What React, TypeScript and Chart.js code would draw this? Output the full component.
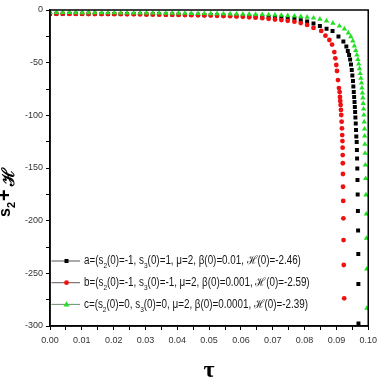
import React, { useEffect, useRef } from 'react';
import { Chart, registerables } from 'chart.js';

Chart.register(...registerables);

// ---- data ----
const tauGrid = [
  0, 0.0020, 0.0040, 0.0061, 0.0081, 0.0101, 0.0121, 0.0141, 0.0162, 0.0182,
  0.0202, 0.0222, 0.0242, 0.0263, 0.0283, 0.0303, 0.0323, 0.0343, 0.0364, 0.0384,
  0.0404, 0.0424, 0.0444, 0.0465, 0.0485, 0.0505, 0.0525, 0.0545, 0.0566, 0.0586,
  0.0606, 0.0626, 0.0646, 0.0667, 0.0687, 0.0707, 0.0727, 0.0747, 0.0768, 0.0788,
  0.0808, 0.0828, 0.0848, 0.0869, 0.0889,
];

const aHead = [
  -3.5, -3.5, -3.5, -3.5, -3.6, -3.6, -3.6, -3.6, -3.7, -3.7,
  -3.7, -3.8, -3.8, -3.9, -3.9, -4.0, -4.0, -4.1, -4.2, -4.2,
  -4.3, -4.4, -4.5, -4.6, -4.7, -4.8, -4.9, -5.1, -5.2, -5.4,
  -5.6, -5.8, -6.0, -6.3, -6.6, -6.9, -7.2, -7.6, -8.2, -9.6,
  -11.0, -12.9, -15.2, -17.8,
];
const aTailTau = [
  0.08878, 0.09064, 0.09219, 0.09312, 0.09358, 0.09399, 0.09430, 0.09458, 0.09482, 0.09501,
  0.09520, 0.09532, 0.09545, 0.09557, 0.09569, 0.09579, 0.09588, 0.09597, 0.09607, 0.09616,
  0.09625, 0.09637, 0.09644, 0.09650, 0.09656, 0.09662, 0.09668, 0.09675, 0.09681, 0.09687,
  0.09690, 0.09693,
];
const aTailVal = [
  -19.9, -25.2, -29.9, -34.7, -38.9, -42.7, -47.0, -51.8, -57.0, -62.2,
  -67.4, -72.6, -77.9, -82.6, -87.3, -92.1, -96.8, -102.1, -107.8, -113.9,
  -120.1, -125.3, -132.9, -141.0, -150.5, -161.4, -175.2, -190.8, -209.3, -231.6,
  -260.1, -297.5,
];

const bHead = [
  -3.6, -3.6, -3.6, -3.7, -3.7, -3.7, -3.8, -3.8, -3.9, -3.9,
  -4.0, -4.0, -4.1, -4.1, -4.2, -4.3, -4.3, -4.4, -4.5, -4.6,
  -4.7, -4.8, -4.9, -5.0, -5.2, -5.3, -5.5, -5.7, -5.9, -6.2,
  -6.5, -6.9, -7.3, -7.8, -8.4, -9.0, -9.6, -10.3, -11.1, -12.4,
  -14.2, -17.0,
];
const bTailTau = [
  0.08522, 0.08655, 0.08779, 0.08863, 0.08934, 0.08965, 0.08996, 0.09018, 0.09049, 0.09080,
  0.09101, 0.09111, 0.09120, 0.09132, 0.09142, 0.09151, 0.09164, 0.09173, 0.09182, 0.09189,
  0.09195, 0.09198, 0.09201, 0.09204, 0.09207, 0.09213, 0.09219, 0.09225, 0.09231, 0.09244,
];
const bTailVal = [
  -19.9, -24.4, -28.5, -32.8, -39.9, -45.9, -52.2, -57.9, -66.5, -74.1,
  -77.9, -82.6, -86.4, -90.2, -94.9, -99.7, -106.0, -112.3, -118.7, -124.4,
  -130.7, -137.7, -145.5, -155.7, -167.8, -181.3, -197.8, -218.4, -242.1, -273.7,
];

const cHead = [
  -2.4, -2.4, -2.4, -2.4, -2.5, -2.5, -2.5, -2.5, -2.6, -2.6,
  -2.6, -2.7, -2.7, -2.7, -2.8, -2.8, -2.9, -2.9, -3.0, -3.0,
  -3.1, -3.1, -3.2, -3.3, -3.3, -3.4, -3.5, -3.6, -3.7, -3.8,
  -3.9, -4.0, -4.2, -4.3, -4.5, -4.7, -5.0, -5.3, -5.7, -6.2,
  -6.8, -7.6, -8.7, -10.3, -12.5,
];
const cTailTau = [
  0.09095, 0.09250, 0.09374, 0.09452, 0.09514, 0.09563, 0.09607, 0.09644, 0.09675, 0.09700,
  0.09724, 0.09746, 0.09768, 0.09786, 0.09802, 0.09817, 0.09830, 0.09842, 0.09854, 0.09864,
  0.09873, 0.09882, 0.09888, 0.09895, 0.09901, 0.09910, 0.09920, 0.09929, 0.09938, 0.09944,
  0.09951, 0.09957,
];
const cTailVal = [
  -15.2, -18.0, -21.8, -25.3, -29.4, -34.2, -38.5, -42.7, -47.0, -51.3,
  -55.7, -60.3, -64.8, -69.3, -74.1, -78.8, -83.5, -88.6, -94.0, -99.7,
  -106.3, -113.0, -119.6, -127.5, -136.0, -147.2, -160.0, -175.6, -193.7, -216.7,
  -245.9, -283.2,
];

const legendLabels = [
  'a=(s_2(0)=-1, s_3(0)=1, μ=2, β(0)=0.01, ℋ(0)=-2.46)',
  'b=(s_2(0)=-1, s_3(0)=-1, μ=2, β(0)=0.001, ℋ(0)=-2.59)',
  'c=(s_2(0)=0, s_3(0)=0, μ=2, β(0)=0.0001, ℋ(0)=-2.39)',
];
const yTitleParts = ['s', '2', '+', 'ℋ'];
const xTitle = 'τ';

const seriesColors = ['#000000', '#ee1111', '#22e022'];
const legendLineColors = ['#555555', '#6b5555', '#6f8f6f'];
const seriesStyles = ['rect', 'circle', 'triangle'];

function pts(tau: number[], val: number[]) {
  return val.map((v, i) => ({ x: tau[i], y: v }));
}

const seriesA = [...pts(tauGrid, aHead), ...pts(aTailTau, aTailVal)];
const seriesB = [...pts(tauGrid, bHead), ...pts(bTailTau, bTailVal)];
const seriesC = [...pts(tauGrid, cHead), ...pts(cTailTau, cTailVal)];

const tickFont = "'Liberation Sans', sans-serif";
const legendFont = "'Liberation Sans', sans-serif";

function drawRich(ctx: CanvasRenderingContext2D, str: string, x0: number, y: number, font: string, subFont: string, subDy: number, squeeze: number) {
  ctx.save();
  ctx.translate(x0, y);
  ctx.scale(squeeze, 1);
  let x = 0;
  const parts = str.split(/_(.)/);
  parts.forEach((p, k) => {
    if (!p) return;
    const sub = k % 2 === 1;
    ctx.font = sub ? subFont : font;
    ctx.fillText(p, x, sub ? subDy : 0);
    x += ctx.measureText(p).width;
  });
  ctx.restore();
}

function drawMarker(ctx: CanvasRenderingContext2D, style: string, x: number, y: number, color: string) {
  ctx.fillStyle = color;
  ctx.beginPath();
  if (style === 'rect') {
    ctx.rect(x - 2, y - 2, 4, 4);
  } else if (style === 'circle') {
    ctx.arc(x, y, 2.4, 0, Math.PI * 2);
  } else {
    ctx.moveTo(x, y - 3.2);
    ctx.lineTo(x + 3, y + 2);
    ctx.lineTo(x - 3, y + 2);
    ctx.closePath();
  }
  ctx.fill();
}

const overlayPlugin = {
  id: 'overlay',
  afterDraw(chart: any) {
    const { ctx, chartArea: ca } = chart;
    ctx.save();
    // frame
    ctx.strokeStyle = '#000';
    ctx.lineWidth = 1.5;
    ctx.strokeRect(ca.left, ca.top, ca.right - ca.left, ca.bottom - ca.top);

    // legend
    legendLabels.forEach((label, i) => {
      const y = ca.bottom - 65 + i * 21.7;
      ctx.strokeStyle = legendLineColors[i];
      ctx.lineWidth = 1;
      ctx.beginPath();
      ctx.moveTo(ca.left + 1.5, y);
      ctx.lineTo(ca.left + 30, y);
      ctx.stroke();
      drawMarker(ctx, seriesStyles[i], ca.left + 16.5, y, seriesColors[i]);
      ctx.fillStyle = '#151515';
      ctx.textBaseline = 'middle';
      ctx.textAlign = 'left';
      drawRich(ctx, label, ca.left + 34, y, `12px ${legendFont}`, `8px ${legendFont}`, 5, 0.82);
    });

    // y-axis title (rotated)
    ctx.save();
    ctx.translate(10, 217);
    ctx.rotate(-Math.PI / 2);
    ctx.fillStyle = '#000';
    ctx.textBaseline = 'alphabetic';
    ctx.textAlign = 'left';
    let x = 0;
    ctx.font = "bold 16px 'Liberation Sans', sans-serif";
    ctx.fillText(yTitleParts[0], x, 0);
    x += ctx.measureText(yTitleParts[0]).width;
    ctx.font = "bold 11px 'Liberation Sans', sans-serif";
    ctx.fillText(yTitleParts[1], x, 5);
    x += ctx.measureText(yTitleParts[1]).width + 1;
    ctx.font = "bold 20px 'Liberation Sans', sans-serif";
    ctx.fillText(yTitleParts[2], x, 1);
    x += ctx.measureText(yTitleParts[2]).width + 3;
    ctx.font = "bold 17px 'DejaVu Serif', serif";
    ctx.fillText(yTitleParts[3], x, 4);
    ctx.restore();

    // x-axis title
    ctx.fillStyle = '#000';
    ctx.font = "bold 24px 'Liberation Serif', serif";
    ctx.textAlign = 'center';
    ctx.textBaseline = 'middle';
    ctx.fillText(xTitle, (ca.left + ca.right) / 2, 371);
    ctx.restore();
  },
};

export default function App() {
  const ref = useRef<HTMLCanvasElement | null>(null);
  useEffect(() => {
    if (!ref.current) return;
    const datasets = [seriesA, seriesB, seriesC].map((data, i) => ({
      label: legendLabels[i],
      data,
      showLine: false,
      pointStyle: seriesStyles[i] as any,
      pointRadius: i === 0 ? 2.8 : i === 1 ? 2.4 : 3.1,
      pointBackgroundColor: seriesColors[i],
      pointBorderColor: seriesColors[i],
      pointBorderWidth: 0,
      order: 3 - i,
    }));
    const chart = new Chart(ref.current, {
      type: 'scatter',
      data: { datasets },
      options: {
        animation: false,
        responsive: false,
        devicePixelRatio: 1,
        events: [],
        layout: { padding: { top: 10, right: 9, left: 0, bottom: 0 } },
        plugins: { legend: { display: false }, tooltip: { enabled: false }, title: { display: false } },
        scales: {
          x: {
            type: 'linear',
            min: 0,
            max: 0.1,
            afterFit: (s: any) => { s.height = 56; },
            border: { display: true, color: '#000', width: 1.5 },
            grid: { drawOnChartArea: false, drawTicks: true, tickLength: 4, color: '#000', tickColor: '#000' },
            ticks: {
              stepSize: 0.005,
              autoSkip: false,
              maxRotation: 0,
              padding: 5,
              color: '#333',
              font: { family: tickFont, size: 9 },
              callback: (v: any) => {
                const n = Math.round(Number(v) * 1000);
                return n % 10 === 0 ? (n / 1000).toFixed(2) : '';
              },
            },
          },
          y: {
            type: 'linear',
            min: -300,
            max: 0,
            afterFit: (s: any) => { s.width = 50; },
            border: { display: true, color: '#000', width: 1.5 },
            grid: { drawOnChartArea: false, drawTicks: true, tickLength: 4, color: '#000', tickColor: '#000' },
            ticks: {
              stepSize: 25,
              autoSkip: false,
              padding: 3,
              color: '#333',
              font: { family: tickFont, size: 9 },
              callback: (v: any) => {
                const n = Math.round(Number(v));
                return n % 50 === 0 ? String(n) : '';
              },
            },
          },
        },
      },
      plugins: [overlayPlugin],
    });
    return () => chart.destroy();
  }, []);
  return (
    <div style={{ position: 'fixed', left: 0, top: 0, width: 382, height: 382, background: '#fff' }}>
      <canvas ref={ref} width={382} height={382} />
    </div>
  );
}
